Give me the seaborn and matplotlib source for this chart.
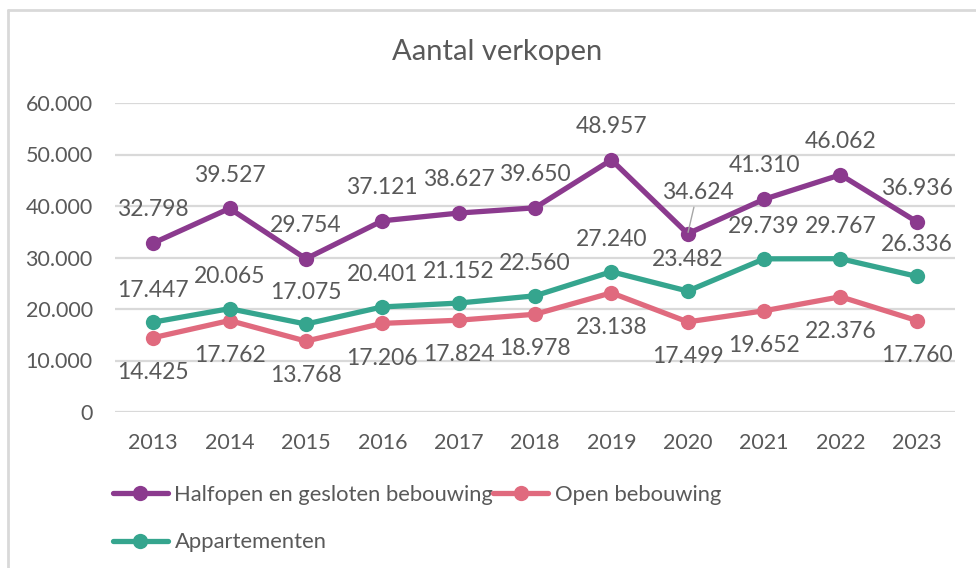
import matplotlib
matplotlib.use("Agg")
import matplotlib.pyplot as plt
import seaborn as sns
import pandas as pd
from matplotlib.lines import Line2D

# Data
jaren = [2013, 2014, 2015, 2016, 2017, 2018, 2019, 2020, 2021, 2022, 2023]
halfopen = [32798, 39527, 29754, 37121, 38627, 39650, 48957, 34624, 41310, 46062, 36936]
open_bebouwing = [14425, 17762, 13768, 17206, 17824, 18978, 23138, 17499, 19652, 22376, 17760]
appartementen = [17447, 20065, 17075, 20401, 21152, 22560, 27240, 23482, 29739, 29767, 26336]

reeksen = ["Halfopen en gesloten bebouwing", "Open bebouwing", "Appartementen"]
kleuren = {"Halfopen en gesloten bebouwing": "#8B3A8E",
           "Open bebouwing": "#E06A7E",
           "Appartementen": "#35A58E"}
yticks = [0, 10000, 20000, 30000, 40000, 50000, 60000]

df = pd.DataFrame({
    "jaar": jaren * 3,
    "aantal": halfopen + open_bebouwing + appartementen,
    "type": [reeksen[0]] * len(jaren) + [reeksen[1]] * len(jaren) + [reeksen[2]] * len(jaren),
})

def nl(v):
    return "0" if v == 0 else f"{v:,}".replace(",", ".")

sns.set_style("white")
plt.rcParams["font.family"] = ["Lato", "DejaVu Sans"]
grijs = "#595959"
lbl_size = 16.5

fig = plt.figure(figsize=(9.76, 5.68), dpi=100)
ax = fig.add_axes([115 / 976, 1 - 412 / 568, 840 / 976, 309 / 568])

sns.lineplot(data=df, x="jaar", y="aantal", hue="type", hue_order=reeksen,
             palette=kleuren, marker="o", markersize=11, markeredgewidth=0,
             linewidth=3.8, legend=False, ax=ax, zorder=3)

ax.set_xlim(2012.5, 2023.5)
ax.set_ylim(0, 60000)
ax.set_yticks(yticks)
ax.set_yticklabels([nl(v) for v in yticks])
ax.set_xticks(jaren)
ax.set_xticklabels([str(j) for j in jaren])
ax.tick_params(axis="y", length=0, pad=16, labelsize=15.5, labelcolor=grijs)
ax.tick_params(axis="x", length=0, pad=15, labelsize=15.5, labelcolor=grijs)
ax.set_xlabel("")
ax.set_ylabel("")
for s in ax.spines.values():
    s.set_visible(False)
ax.grid(axis="y", color="#D9D9D9", linewidth=1.6, zorder=0)
ax.grid(axis="x", visible=False)

# data labels
for j, v in zip(jaren, halfopen):
    if j == 2020:
        # this one is pulled up-right with a leader line
        ax.annotate(nl(v), (j, v), xytext=(7, 30), textcoords="offset points",
                    ha="center", va="center", fontsize=lbl_size, color=grijs,
                    arrowprops=dict(arrowstyle="-", color="#A6A6A6", lw=1,
                                    shrinkA=1, shrinkB=1))
    else:
        ax.annotate(nl(v), (j, v), xytext=(0, 24), textcoords="offset points",
                    ha="center", va="center", fontsize=lbl_size, color=grijs)
for j, v in zip(jaren, appartementen):
    ax.annotate(nl(v), (j, v), xytext=(0, 23), textcoords="offset points",
                ha="center", va="center", fontsize=lbl_size, color=grijs)
for j, v in zip(jaren, open_bebouwing):
    ax.annotate(nl(v), (j, v), xytext=(0, -25), textcoords="offset points",
                ha="center", va="center", fontsize=lbl_size, color=grijs)

fig.text(497 / 976, 1 - 52 / 568, "Aantal verkopen", ha="center", va="center",
         fontsize=21, color=grijs)

# legend
volgorde = [reeksen[0], reeksen[2], reeksen[1]]
handles = [Line2D([0], [0], color=kleuren[r], lw=3.8, marker="o", markersize=11,
                  markeredgewidth=0) for r in volgorde]
fig.legend(handles, volgorde, loc="upper left", bbox_to_anchor=(113 / 976, 1 - 485 / 568),
           ncol=2, frameon=False, fontsize=15.8, labelcolor=grijs,
           handlelength=2.5, handletextpad=0.3, columnspacing=0.0,
           labelspacing=1.25, borderpad=0, borderaxespad=0)

# chart border (top and left)
fig.add_artist(Line2D([8 / 976, 1], [1 - 10 / 568, 1 - 10 / 568], color="#D9D9D9", lw=2,
                      transform=fig.transFigure))
fig.add_artist(Line2D([8 / 976, 8 / 976], [0, 1 - 10 / 568], color="#D9D9D9", lw=2,
                      transform=fig.transFigure))

fig.savefig("out.png", dpi=100, facecolor="white")
